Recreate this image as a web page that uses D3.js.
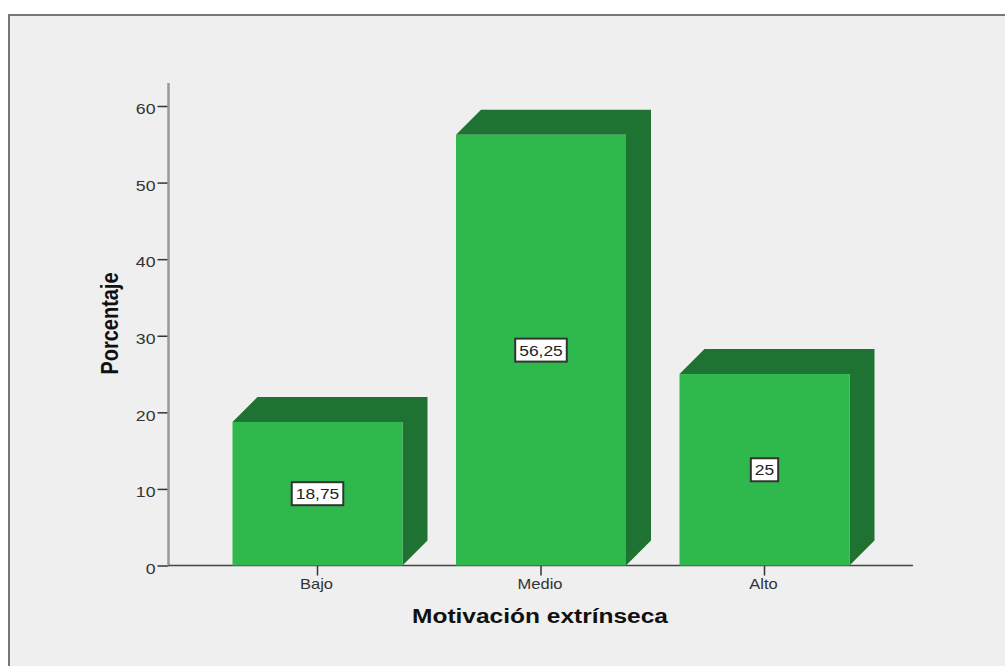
<!DOCTYPE html>
<html>
<head>
<meta charset="utf-8">
<script src="https://d3js.org/d3.v7.min.js"></script>
<style>
  html, body { margin: 0; padding: 0; background: #fff; }
  svg { display: block; }
  text { font-family: "Liberation Sans", Arial, sans-serif; }
</style>
</head>
<body>
<div id="chart"></div>
<script>
// Data
const categories = ["Bajo", "Medio", "Alto"];
const values = [18.75, 56.25, 25];
const valueLabels = ["18,75", "56,25", "25"];
const yTicks = [0, 10, 20, 30, 40, 50, 60];

const width = 1005;
const height = 666;
const depth = 25;
const axisX = 168.5;
const axisEnd = 913;

const svg = d3.select("#chart")
    .append("svg")
    .attr("width", width)
    .attr("height", height);

// Horizontally stretch a text element by a factor of its natural width
function stretch(selection, factor) {
    selection.each(function () {
        d3.select(this)
            .attr("textLength", this.getComputedTextLength() * factor)
            .attr("lengthAdjust", "spacingAndGlyphs");
    });
}

// Panel with its dark top and left edge
svg.append("rect")
    .attr("x", 9).attr("y", 15)
    .attr("width", width - 9).attr("height", height - 15)
    .attr("fill", "#efefef");
svg.append("path")
    .attr("d", `M9,${height}V15H${width}`)
    .attr("fill", "none")
    .attr("stroke", "#777")
    .attr("stroke-width", 2);

// Scales
const xScale = d3.scaleBand()
    .domain(categories)
    .range([205.75, 876.25])
    .paddingInner(0.2394)
    .paddingOuter(0.1197);

const yScale = d3.scaleLinear()
    .domain([0, 60])
    .range([565.5, 106]);

// Axes
const yAxis = d3.axisLeft(yScale)
    .tickValues(yTicks)
    .tickSize(11)
    .tickSizeOuter(0)
    .tickPadding(2);

const xAxis = d3.axisBottom(xScale)
    .tickSize(10)
    .tickSizeOuter(0)
    .tickPadding(3);

const yAxisG = svg.append("g")
    .attr("transform", `translate(${axisX},0)`)
    .call(yAxis);
yAxisG.select(".domain").remove();
yAxisG.selectAll("line").attr("stroke", "#333").attr("stroke-width", 1.5);
yAxisG.selectAll("text")
    .attr("font-family", "Liberation Sans")
    .attr("font-size", 15)
    .attr("fill", "#333")
    .attr("dy", "0.52em")
    .call(stretch, 1.18);

svg.append("line")
    .attr("x1", axisX).attr("x2", axisX)
    .attr("y1", 83).attr("y2", 566)
    .attr("stroke", "#999")
    .attr("stroke-width", 2.5);

const xAxisG = svg.append("g")
    .attr("transform", `translate(0,${yScale(0)})`)
    .call(xAxis);
xAxisG.select(".domain").remove();
xAxisG.selectAll("line").attr("stroke", "#333").attr("stroke-width", 1.5);
xAxisG.selectAll("text")
    .attr("font-family", "Liberation Sans")
    .attr("font-size", 15)
    .attr("fill", "#333")
    .attr("dx", -1)
    .call(stretch, 1.1);

svg.append("line")
    .attr("x1", axisX).attr("x2", axisEnd)
    .attr("y1", yScale(0)).attr("y2", yScale(0))
    .attr("stroke", "#444")
    .attr("stroke-width", 1.5);

// Bars: shaded top and side first, then the front face
const bars = svg.selectAll(".bar")
    .data(categories.map((c, i) => ({ category: c, value: values[i], label: valueLabels[i] })))
    .enter()
    .append("g")
    .attr("class", "bar");

bars.append("path")
    .attr("fill", "#1e7232")
    .attr("d", d => {
        const x0 = xScale(d.category);
        const x1 = x0 + xScale.bandwidth();
        const top = yScale(d.value);
        const base = yScale(0);
        return `M${x0},${top}L${x0 + depth},${top - depth}H${x1 + depth}V${base - depth}L${x1},${base}V${top}Z`;
    });

bars.append("rect")
    .attr("fill", "#2fb84c")
    .attr("x", d => xScale(d.category))
    .attr("y", d => yScale(d.value))
    .attr("width", xScale.bandwidth())
    .attr("height", d => yScale(0) - yScale(d.value));

// Value labels in white boxes, centred on the front face
const labels = bars.append("g")
    .attr("transform", d => `translate(${xScale(d.category) + xScale.bandwidth() / 2},${(yScale(0) + yScale(d.value)) / 2})`);

labels.append("text")
    .attr("text-anchor", "middle")
    .attr("y", 5.5)
    .attr("font-size", 15)
    .attr("fill", "#222")
    .text(d => d.label)
    .call(stretch, 1.16);

labels.insert("rect", "text")
    .attr("fill", "#fff")
    .attr("stroke", "#333")
    .attr("stroke-width", 2)
    .each(function () {
        // textLength is already set, so this is the stretched width
        const textWidth = this.parentNode.querySelector("text").getComputedTextLength();
        d3.select(this)
            .attr("x", -textWidth / 2 - 4)
            .attr("y", -11.5)
            .attr("width", textWidth + 8)
            .attr("height", 23);
    });

// Axis titles
svg.append("text")
    .attr("x", 540)
    .attr("y", 622.5)
    .attr("text-anchor", "middle")
    .attr("font-size", 19.5)
    .attr("font-weight", "bold")
    .attr("fill", "#111")
    .attr("textLength", 256)
    .attr("lengthAdjust", "spacingAndGlyphs")
    .text("Motivación extrínseca");

svg.append("text")
    .attr("transform", "translate(117.5,323.5) rotate(-90)")
    .attr("text-anchor", "middle")
    .attr("font-size", 24)
    .attr("font-weight", "bold")
    .attr("fill", "#111")
    .attr("textLength", 102)
    .attr("lengthAdjust", "spacingAndGlyphs")
    .text("Porcentaje");
</script>
</body>
</html>
